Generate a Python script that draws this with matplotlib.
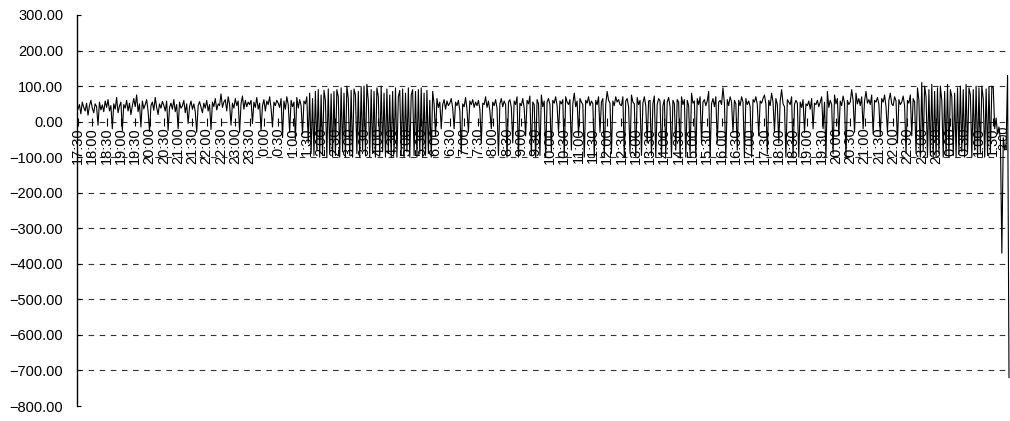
import numpy as np
import pandas as pd
import matplotlib
matplotlib.use("Agg")
import matplotlib.pyplot as plt
from matplotlib.ticker import FuncFormatter, MultipleLocator

plt.rcParams['font.family'] = ['Liberation Sans', 'DejaVu Sans']

# 3-minute readings, one row per hour (starting at :30), first row 17:30 day 1
rows = [
    [35, 48, 22, 55, 40, 30, 52, 18, 45, 60, 38, 25, 50, 42, -10, 55, 33, 47, 28, 58],
    [40, 62, 30, 45, -20, 50, 35, 68, 25, 44, 55, -25, 48, 38, 60, 30, 52, 20, 45, 65],
    [42, 75, 28, 50, -15, 58, 36, 48, 62, 30, -28, 45, 55, 32, 68, 40, 20, 50, 38, 57],
    [46, 30, 58, -25, 40, 52, 35, 62, 28, 48, -20, 55, 38, 44, 60, 25, 50, -5, 42, 58],
    [35, 50, 28, -30, 45, 56, 40, 25, 52, 38, 60, 30, 48, -22, 55, 42, 65, 33, 50, 45],
    [78, 40, 55, 62, 30, 70, 48, -10, 52, 38, 65, 45, 58, -30, 50, 72, 35, 60, 42, 55],
    [48, 60, -5, 55, 40, 68, 35, 52, -25, 45, 62, 30, 58, 48, 70, 38, -15, 55, 45, 60],
    # day 2
    [52, 40, 65, -45, 58, 35, 70, 48, -30, 60, 42, 55, -50, 68, 38, 62, 45, -35, 58, 50],
    [70, -60, 80, -90, 65, -95, 85, -80, 90, -100, 75, -95, 88, 60, -100, 92, -90, 78, -100, 85],
    [-95, 90, 70, -100, 95, -85, 80, -100, 100, 65, -95, 88, -100, 92, 75, -90, 85, -100, 98, -80],
    [100, -95, 105, 60, -100, 90, -90, 85, -100, 95, 70, -95, 100, -85, 80, -100, 92, -90, 75, -100],
    [85, -90, 95, -100, 70, 88, -95, 92, -100, 80, -85, 95, -100, 75, 90, -95, 85, -100, 90, -90],
    [95, -100, 80, -95, 88, -90, 60, -100, 85, 50, -40, 65, 40, 55, -20, 48, 62, 35, 58, 45],
    [52, 65, 38, -20, 55, 45, 60, 30, -90, 50, 42, 68, 35, -30, 58, 48, 62, 40, 55, 45],
    [60, 35, -60, 52, 48, 70, 40, 58, 30, -20, 55, 45, 62, 38, -95, 50, 65, 42, 58, 48],
    [-100, 55, 62, 40, -60, 58, 48, 70, -100, 52, 45, 65, 38, -40, 60, 50, 72, -95, 55, 48],
    [-100, 62, 50, -95, 75, 42, 58, -100, 55, 65, 48, -85, 60, 52, 70, 45, -30, 58, 50, 62],
    [-100, 70, 55, 48, 62, -80, 50, 80, 42, 58, -40, 65, 55, 48, -100, 60, 52, 70, 45, 58],
    [50, -100, 60, 48, 70, -30, 55, 65, -100, 48, 85, 60, 52, -90, 58, 45, 70, 55, 62, 48],
    [45, 70, -100, 58, 65, 42, -90, 75, 55, 50, -100, 68, 48, 60, -95, 52, 70, 45, -60, 58],
    [60, -95, 50, 72, -100, 48, 65, 58, -100, 45, 62, -90, 55, 68, 42, -100, 60, 50, -80, 62],
    [55, -100, 70, 48, 62, -100, 60, 45, -95, 80, 52, 58, -100, 65, 48, 70, -60, 55, 62, 45],
    [58, 85, -100, 50, 65, 42, 70, -60, 55, 60, 48, 95, 52, -100, 62, 45, 70, 55, -30, 60],
    [50, -80, 60, 45, 70, 55, -100, 65, 48, 58, 42, -100, 62, 55, 70, 48, -40, 58, 52, 65],
    [75, 50, -90, 60, 45, 80, 55, -30, 65, 48, -60, 58, 90, 50, 42, -100, 62, 55, 48, 70],
    [-100, 48, 60, 52, -100, 55, 40, 62, -30, 50, 45, 58, 35, 65, -20, 52, 48, 60, 42, 55],
    [70, -20, 55, -100, 85, 40, 60, 48, -90, 75, 50, 65, -40, 58, 45, 72, 52, -100, 60, 48],
    [55, 90, 60, -30, 80, 50, 65, 45, 70, -20, 58, 85, 52, 62, 48, 75, -35, 60, 55, 68],
    [50, -40, 65, 55, 75, 42, -30, 60, 80, 50, 45, 70, 58, -60, 62, 48, 55, 72, 45, -90],
    [60, 52, 75, -40, 65, 55, -90, 95, 60, -100, 110, -80, 100, 70, -100, 90, -95, 105, -100, 85],
    [-100, 95, -90, 100, 60, -100, 85, -95, 105, -100, 90, 70, -95, 80, -100, 95, -90, 100, -85, 90],
    # day 3
    [-100, 105, -90, 95, 75, -100, 90, -80, 100, -100, 95, -90, 100, 65, -100, 92, -95, 98, -90, 100],
    [95, -20, 10, -35, -15, -50, -370, -45, -80, -60, 130, -720],
]
values = [v for r in rows for v in r]
times = pd.date_range("2000-01-01 17:30", periods=len(values), freq="3min")

tick_idx = list(range(0, 641, 10))
tick_labels = [f"{times[i].hour}:{times[i].minute:02d}" for i in tick_idx]

fig = plt.figure(figsize=(10.10, 4.21), dpi=100)
ax = fig.add_axes([77 / 1010, 1 - 406 / 421, 933 / 1010, (406 - 15) / 421])

ax.plot(np.arange(len(values)), values, color='black', lw=0.8, clip_on=False, zorder=3)

ax.set_ylim(-800, 300)
ax.set_xlim(-0.7, 651.7)
ax.yaxis.set_major_locator(MultipleLocator(100))
ax.yaxis.set_major_formatter(FuncFormatter(lambda v, p: f"{v:.2f}".replace('-', '\u2212')))

# dashed gridlines, none at the top and bottom limits
for y in range(-700, 300, 100):
    ax.axhline(y, color='#333333', lw=0.8, dashes=(5, 5), zorder=1)

for s in ['top', 'right']:
    ax.spines[s].set_visible(False)
ax.spines['left'].set_linewidth(1.0)
ax.spines['bottom'].set_position(('data', 0))
ax.spines['bottom'].set_visible(False)

ax.set_xticks(tick_idx)
ax.set_xticklabels(tick_labels, rotation=90, fontsize=10.5)
ax.tick_params(axis='x', direction='inout', length=6, width=0.8, pad=1)
ax.tick_params(axis='y', direction='in', length=3, width=0.8, pad=10, labelsize=10.5)

# last label squeezed in at the right edge
last = len(values) - 2
ax.text(648, -12, f"{times[last].hour}:{times[last].minute:02d}", rotation=90,
        ha='center', va='top', fontsize=9)

fig.savefig("out.png", dpi=100)
